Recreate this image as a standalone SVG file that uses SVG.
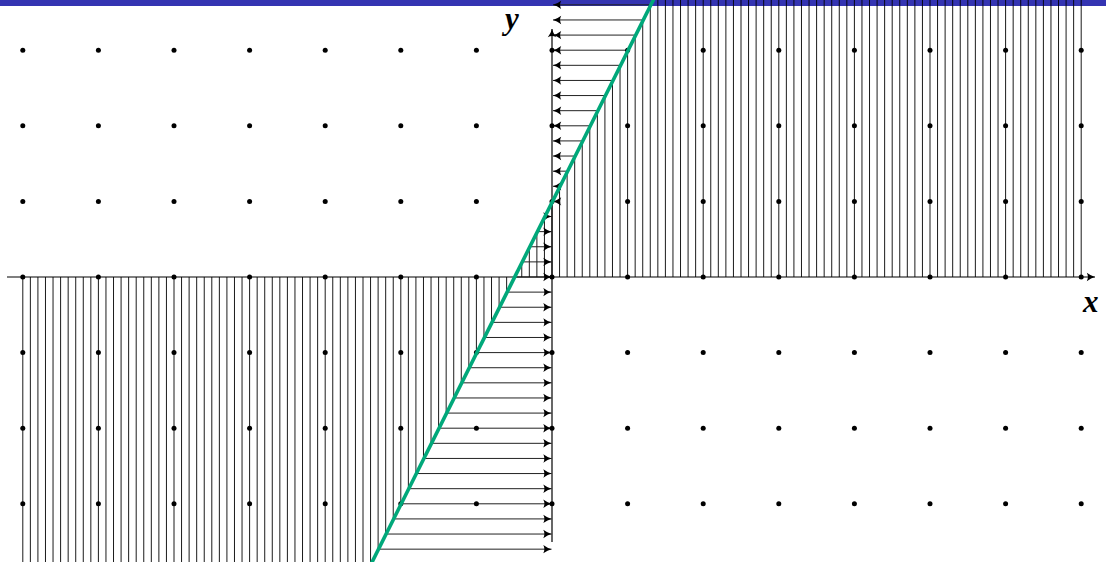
<svg xmlns="http://www.w3.org/2000/svg" width="1106" height="562" viewBox="0 0 1106 562">
<style>
.vl{stroke:#000;stroke-width:0.9;fill:none}
.ar{stroke:#222;stroke-width:1;fill:none;marker-end:url(#ah)}
.ax{stroke:#000;stroke-width:1.2;fill:none;marker-end:url(#ah)}
.dot{fill:#000}
.lbl{font-family:"Liberation Serif","DejaVu Serif",serif;font-style:italic;font-weight:bold;font-size:31px;fill:#000}
</style>
<defs>
<marker id="ah" markerUnits="userSpaceOnUse" viewBox="-10 -5 11 10" refX="0" refY="0" markerWidth="11" markerHeight="10" orient="auto" overflow="visible">
<path d="M-8.2,-4.2 Q-3.8,-0.9 0,0 Q-3.8,0.9 -8.2,4.2 Q-6,0 -8.2,-4.2 Z" fill="#000"/>
</marker>
</defs>
<rect id="bar" x="0" y="0" width="1106" height="6" fill="#3434b2"/>
<g id="verticals" class="vl">
<path d="M22.8,277V562M30.36,277V562M37.92,277V562M45.48,277V562M53.04,277V562M60.6,277V562M68.16,277V562M75.72,277V562M83.28,277V562M90.84,277V562M98.4,277V562M105.96,277V562M113.52,277V562M121.08,277V562M128.64,277V562M136.2,277V562M143.76,277V562M151.32,277V562M158.88,277V562M166.44,277V562M174,277V562M181.56,277V562M189.12,277V562M196.68,277V562M204.24,277V562M211.8,277V562M219.36,277V562M226.92,277V562M234.48,277V562M242.04,277V562M249.6,277V562M257.16,277V562M264.72,277V562M272.28,277V562M279.84,277V562M287.4,277V562M294.96,277V562M302.52,277V562M310.08,277V562M317.64,277V562M325.2,277V562M332.76,277V562M340.32,277V562M347.88,277V562M355.44,277V562M363,277V562M370.56,277V562M378.12,277V549.16M385.68,277V534.04M393.24,277V518.92M400.8,277V503.8M408.36,277V488.68M415.92,277V473.56M423.48,277V458.44M431.04,277V443.32M438.6,277V428.2M446.16,277V413.08M453.72,277V397.96M461.28,277V382.84M468.84,277V367.72M476.4,277V352.6M483.96,277V337.48M491.52,277V322.36M499.08,277V307.24M506.64,277V292.12M521.76,277V261.88M529.32,277V246.76M536.88,277V231.64M544.44,277V216.52M552,277V201.4M559.56,277V186.28M567.12,277V171.16M574.68,277V156.04M582.24,277V140.92M589.8,277V125.8M597.36,277V110.68M604.92,277V95.56M612.48,277V80.44M620.04,277V65.32M627.6,277V50.2M635.16,277V35.08M642.72,277V19.96M650.28,277V4.84M657.84,277V0M665.4,277V0M672.96,277V0M680.52,277V0M688.08,277V0M695.64,277V0M703.2,277V0M710.76,277V0M718.32,277V0M725.88,277V0M733.44,277V0M741,277V0M748.56,277V0M756.12,277V0M763.68,277V0M771.24,277V0M778.8,277V0M786.36,277V0M793.92,277V0M801.48,277V0M809.04,277V0M816.6,277V0M824.16,277V0M831.72,277V0M839.28,277V0M846.84,277V0M854.4,277V0M861.96,277V0M869.52,277V0M877.08,277V0M884.64,277V0M892.2,277V0M899.76,277V0M907.32,277V0M914.88,277V0M922.44,277V0M930,277V0M937.56,277V0M945.12,277V0M952.68,277V0M960.24,277V0M967.8,277V0M975.36,277V0M982.92,277V0M990.48,277V0M998.04,277V0M1005.6,277V0M1013.16,277V0M1020.72,277V0M1028.28,277V0M1035.84,277V0M1043.4,277V0M1050.96,277V0M1058.52,277V0M1066.08,277V0M1073.64,277V0M1081.2,277V0"/>
</g>
<g id="connectors">
<line class="ar" x1="650.28" y1="4.84" x2="553" y2="4.84"/>
<line class="ar" x1="642.72" y1="19.96" x2="553" y2="19.96"/>
<line class="ar" x1="635.16" y1="35.08" x2="553" y2="35.08"/>
<line class="ar" x1="627.6" y1="50.2" x2="553" y2="50.2"/>
<line class="ar" x1="620.04" y1="65.32" x2="553" y2="65.32"/>
<line class="ar" x1="612.48" y1="80.44" x2="553" y2="80.44"/>
<line class="ar" x1="604.92" y1="95.56" x2="553" y2="95.56"/>
<line class="ar" x1="597.36" y1="110.68" x2="553" y2="110.68"/>
<line class="ar" x1="589.8" y1="125.8" x2="553" y2="125.8"/>
<line class="ar" x1="582.24" y1="140.92" x2="553" y2="140.92"/>
<line class="ar" x1="574.68" y1="156.04" x2="553" y2="156.04"/>
<line class="ar" x1="567.12" y1="171.16" x2="553" y2="171.16"/>
<line class="ar" x1="559.56" y1="186.28" x2="553" y2="186.28"/>
<path d="M561.2,197.2 Q556.8,200.5 553,201.4 Q556.8,202.3 561.2,205.6 Q559,201.4 561.2,197.2 Z" fill="#000"/>
<line class="ar" x1="544.44" y1="216.52" x2="551.5" y2="216.52"/>
<line class="ar" x1="536.88" y1="231.64" x2="551.5" y2="231.64"/>
<line class="ar" x1="529.32" y1="246.76" x2="551.5" y2="246.76"/>
<line class="ar" x1="521.76" y1="261.88" x2="551.5" y2="261.88"/>
<line class="ar" x1="514.2" y1="277" x2="551.5" y2="277"/>
<line class="ar" x1="506.64" y1="292.12" x2="551.5" y2="292.12"/>
<line class="ar" x1="499.08" y1="307.24" x2="551.5" y2="307.24"/>
<line class="ar" x1="491.52" y1="322.36" x2="551.5" y2="322.36"/>
<line class="ar" x1="483.96" y1="337.48" x2="551.5" y2="337.48"/>
<line class="ar" x1="476.4" y1="352.6" x2="551.5" y2="352.6"/>
<line class="ar" x1="468.84" y1="367.72" x2="551.5" y2="367.72"/>
<line class="ar" x1="461.28" y1="382.84" x2="551.5" y2="382.84"/>
<line class="ar" x1="453.72" y1="397.96" x2="551.5" y2="397.96"/>
<line class="ar" x1="446.16" y1="413.08" x2="551.5" y2="413.08"/>
<line class="ar" x1="438.6" y1="428.2" x2="551.5" y2="428.2"/>
<line class="ar" x1="431.04" y1="443.32" x2="551.5" y2="443.32"/>
<line class="ar" x1="423.48" y1="458.44" x2="551.5" y2="458.44"/>
<line class="ar" x1="415.92" y1="473.56" x2="551.5" y2="473.56"/>
<line class="ar" x1="408.36" y1="488.68" x2="551.5" y2="488.68"/>
<line class="ar" x1="400.8" y1="503.8" x2="551.5" y2="503.8"/>
<line class="ar" x1="393.24" y1="518.92" x2="551.5" y2="518.92"/>
<line class="ar" x1="385.68" y1="534.04" x2="551.5" y2="534.04"/>
<line class="ar" x1="378.12" y1="549.16" x2="551.5" y2="549.16"/>
</g>
<g id="axes">
<line class="ax" x1="7" y1="277" x2="1095" y2="277"/>
<line class="ax" x1="552" y1="542" x2="552" y2="29"/>
<text class="lbl" x="505" y="29">y</text>
<text class="lbl" x="1083" y="312">x</text>
</g>
<g id="dots" class="dot">
<circle cx="22.8" cy="50.2" r="2.5"/><circle cx="98.4" cy="50.2" r="2.5"/><circle cx="174" cy="50.2" r="2.5"/><circle cx="249.6" cy="50.2" r="2.5"/><circle cx="325.2" cy="50.2" r="2.5"/><circle cx="400.8" cy="50.2" r="2.5"/><circle cx="476.4" cy="50.2" r="2.5"/><circle cx="552" cy="50.2" r="2.5"/><circle cx="627.6" cy="50.2" r="2.5"/><circle cx="703.2" cy="50.2" r="2.5"/><circle cx="778.8" cy="50.2" r="2.5"/><circle cx="854.4" cy="50.2" r="2.5"/><circle cx="930" cy="50.2" r="2.5"/><circle cx="1005.6" cy="50.2" r="2.5"/><circle cx="1081.2" cy="50.2" r="2.5"/>
<circle cx="22.8" cy="125.8" r="2.5"/><circle cx="98.4" cy="125.8" r="2.5"/><circle cx="174" cy="125.8" r="2.5"/><circle cx="249.6" cy="125.8" r="2.5"/><circle cx="325.2" cy="125.8" r="2.5"/><circle cx="400.8" cy="125.8" r="2.5"/><circle cx="476.4" cy="125.8" r="2.5"/><circle cx="552" cy="125.8" r="2.5"/><circle cx="627.6" cy="125.8" r="2.5"/><circle cx="703.2" cy="125.8" r="2.5"/><circle cx="778.8" cy="125.8" r="2.5"/><circle cx="854.4" cy="125.8" r="2.5"/><circle cx="930" cy="125.8" r="2.5"/><circle cx="1005.6" cy="125.8" r="2.5"/><circle cx="1081.2" cy="125.8" r="2.5"/>
<circle cx="22.8" cy="201.4" r="2.5"/><circle cx="98.4" cy="201.4" r="2.5"/><circle cx="174" cy="201.4" r="2.5"/><circle cx="249.6" cy="201.4" r="2.5"/><circle cx="325.2" cy="201.4" r="2.5"/><circle cx="400.8" cy="201.4" r="2.5"/><circle cx="476.4" cy="201.4" r="2.5"/><circle cx="552" cy="201.4" r="2.5"/><circle cx="627.6" cy="201.4" r="2.5"/><circle cx="703.2" cy="201.4" r="2.5"/><circle cx="778.8" cy="201.4" r="2.5"/><circle cx="854.4" cy="201.4" r="2.5"/><circle cx="930" cy="201.4" r="2.5"/><circle cx="1005.6" cy="201.4" r="2.5"/><circle cx="1081.2" cy="201.4" r="2.5"/>
<circle cx="22.8" cy="277" r="2.5"/><circle cx="98.4" cy="277" r="2.5"/><circle cx="174" cy="277" r="2.5"/><circle cx="249.6" cy="277" r="2.5"/><circle cx="325.2" cy="277" r="2.5"/><circle cx="400.8" cy="277" r="2.5"/><circle cx="476.4" cy="277" r="2.5"/><circle cx="552" cy="277" r="2.5"/><circle cx="627.6" cy="277" r="2.5"/><circle cx="703.2" cy="277" r="2.5"/><circle cx="778.8" cy="277" r="2.5"/><circle cx="854.4" cy="277" r="2.5"/><circle cx="930" cy="277" r="2.5"/><circle cx="1005.6" cy="277" r="2.5"/><circle cx="1081.2" cy="277" r="2.5"/>
<circle cx="22.8" cy="352.6" r="2.5"/><circle cx="98.4" cy="352.6" r="2.5"/><circle cx="174" cy="352.6" r="2.5"/><circle cx="249.6" cy="352.6" r="2.5"/><circle cx="325.2" cy="352.6" r="2.5"/><circle cx="400.8" cy="352.6" r="2.5"/><circle cx="476.4" cy="352.6" r="2.5"/><circle cx="552" cy="352.6" r="2.5"/><circle cx="627.6" cy="352.6" r="2.5"/><circle cx="703.2" cy="352.6" r="2.5"/><circle cx="778.8" cy="352.6" r="2.5"/><circle cx="854.4" cy="352.6" r="2.5"/><circle cx="930" cy="352.6" r="2.5"/><circle cx="1005.6" cy="352.6" r="2.5"/><circle cx="1081.2" cy="352.6" r="2.5"/>
<circle cx="22.8" cy="428.2" r="2.5"/><circle cx="98.4" cy="428.2" r="2.5"/><circle cx="174" cy="428.2" r="2.5"/><circle cx="249.6" cy="428.2" r="2.5"/><circle cx="325.2" cy="428.2" r="2.5"/><circle cx="400.8" cy="428.2" r="2.5"/><circle cx="476.4" cy="428.2" r="2.5"/><circle cx="552" cy="428.2" r="2.5"/><circle cx="627.6" cy="428.2" r="2.5"/><circle cx="703.2" cy="428.2" r="2.5"/><circle cx="778.8" cy="428.2" r="2.5"/><circle cx="854.4" cy="428.2" r="2.5"/><circle cx="930" cy="428.2" r="2.5"/><circle cx="1005.6" cy="428.2" r="2.5"/><circle cx="1081.2" cy="428.2" r="2.5"/>
<circle cx="22.8" cy="503.8" r="2.5"/><circle cx="98.4" cy="503.8" r="2.5"/><circle cx="174" cy="503.8" r="2.5"/><circle cx="249.6" cy="503.8" r="2.5"/><circle cx="325.2" cy="503.8" r="2.5"/><circle cx="400.8" cy="503.8" r="2.5"/><circle cx="476.4" cy="503.8" r="2.5"/><circle cx="552" cy="503.8" r="2.5"/><circle cx="627.6" cy="503.8" r="2.5"/><circle cx="703.2" cy="503.8" r="2.5"/><circle cx="778.8" cy="503.8" r="2.5"/><circle cx="854.4" cy="503.8" r="2.5"/><circle cx="930" cy="503.8" r="2.5"/><circle cx="1005.6" cy="503.8" r="2.5"/><circle cx="1081.2" cy="503.8" r="2.5"/>
</g>
<g id="line">
<line x1="368.6" y1="569" x2="655.8" y2="-5" stroke="#00a87a" stroke-width="3.6"/>
</g>
</svg>
